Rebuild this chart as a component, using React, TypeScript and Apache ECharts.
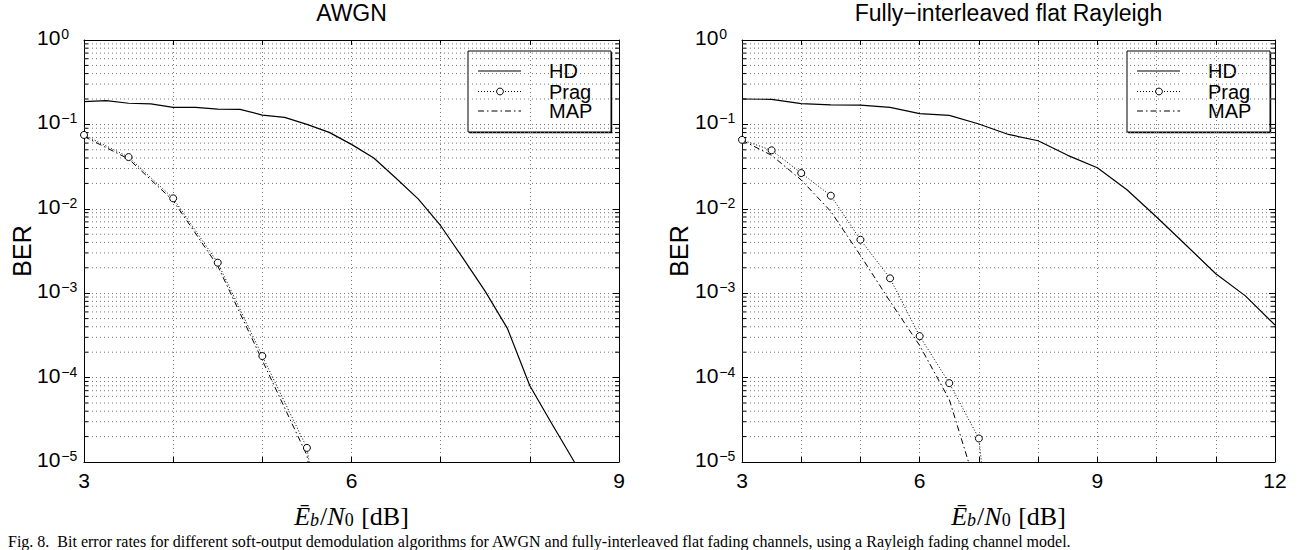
import React, { useEffect, useRef } from "react";
import * as echarts from "echarts";

// ---------- data ----------
const awgnHdX = [3, 3.25, 3.5, 3.75, 4, 4.25, 4.5, 4.75, 5, 5.25, 5.5, 5.75, 6, 6.25, 6.5, 6.75, 7, 7.25, 7.5, 7.75, 8, 8.25, 8.5];
const awgnHdY = [0.186, 0.191, 0.178, 0.175, 0.159, 0.159, 0.152, 0.151, 0.129, 0.121, 0.1, 0.0805, 0.058, 0.04, 0.023, 0.013, 0.0063, 0.0026, 0.00105, 0.00038, 0.00008, 0.000028, 0.00001];
const awgnPragX = [3, 3.5, 4, 4.5, 5, 5.5, 6];
const awgnPragY = [0.075, 0.041, 0.0133, 0.0023, 0.00018, 0.0000147, 1e-8];
const awgnMapX = [3, 3.5, 4, 4.5, 5, 5.5, 6];
const awgnMapY = [0.072, 0.039, 0.0125, 0.0021, 0.00016, 0.000012, 1e-8];

const rayHdX = [3, 3.5, 4, 4.5, 5, 5.5, 6, 6.5, 7, 7.5, 8, 8.5, 9, 9.5, 10, 10.5, 11, 11.5, 12];
const rayHdY = [0.2, 0.198, 0.176, 0.17, 0.169, 0.159, 0.134, 0.128, 0.101, 0.076, 0.064, 0.043, 0.0306, 0.0168, 0.008, 0.0037, 0.0017, 0.00093, 0.00042];
const rayPragX = [3, 3.5, 4, 4.5, 5, 5.5, 6, 6.5, 7, 7.5];
const rayPragY = [0.0657, 0.0493, 0.0265, 0.0143, 0.0043, 0.0015, 0.00031, 0.000086, 0.000019, 1e-8];
const rayMapX = [3, 3.5, 4, 4.5, 5, 5.5, 6, 6.5, 7];
const rayMapY = [0.065, 0.043, 0.022, 0.0093, 0.0028, 0.0008, 0.00024, 0.000055, 0.000004];

const titles = ["AWGN", "Fully\u2212interleaved flat Rayleigh"];
const legendNames = ["HD", "Prag", "MAP"];
const xRanges = [[3, 9], [3, 12]];
const yMin = 1e-5;
const yMax = 1;
const minorY: number[] = [];
for (let d = -5; d <= -1; d++) for (let k = 2; k <= 9; k++) minorY.push(k * Math.pow(10, d));
const caption = "Fig. 8.  Bit error rates for different soft-output demodulation algorithms for AWGN and fully-interleaved flat fading channels, using a Rayleigh fading channel model.";

// ---------- styles ----------
const SANS = '"Liberation Sans", Arial, Helvetica, sans-serif';
const SERIF = '"Liberation Serif", "Times New Roman", serif';
const GRID_COLOR = "#777";
const GRID_DASH = [1, 3];
const GRID_LINE = { color: GRID_COLOR, width: 1, type: GRID_DASH };
const DOT = [1, 2];
const DASHDOT = [6, 3, 1.5, 3];

const grids = [
  { left: 84, top: 40, width: 535, height: 422 },
  { left: 742, top: 40, width: 533, height: 422 },
];

function xAxisPair(gi: number) {
  const [mn, mx] = xRanges[gi];
  const common = {
    type: "value",
    gridIndex: gi,
    min: mn,
    max: mx,
    interval: 3,
    axisLine: { show: true, onZero: false, lineStyle: { color: "#000", width: 1 } },
    axisTick: { show: true, inside: true, length: 5, lineStyle: { color: "#000", width: 1 } },
    minorTick: { show: true, splitNumber: 3, length: 5, lineStyle: { color: "#000", width: 1 } },
  };
  return [
    {
      ...common,
      position: "bottom",
      axisLabel: { color: "#000", fontFamily: SANS, fontSize: 21, margin: 8 },
      splitLine: { show: true, lineStyle: GRID_LINE },
      minorSplitLine: { show: true, lineStyle: GRID_LINE },
      name: "{e|\u0112}{ui|b}{n|/}{e|N}{u|0}{n| [dB]}",
      nameLocation: "middle",
      nameGap: 41,
      nameTextStyle: {
        color: "#000",
        rich: {
          e: { fontFamily: SERIF, fontStyle: "italic", fontSize: 26, lineHeight: 26, verticalAlign: "top", color: "#000" },
          n: { fontFamily: SERIF, fontSize: 26, lineHeight: 26, verticalAlign: "top", color: "#000" },
          ui: { fontFamily: SERIF, fontStyle: "italic", fontSize: 18, lineHeight: 18, verticalAlign: "bottom", padding: [13, 1, 0, 0], color: "#000" },
          u: { fontFamily: SERIF, fontSize: 18, lineHeight: 18, verticalAlign: "bottom", padding: [13, 1, 0, 0], color: "#000" },
        },
      },
    },
    {
      ...common,
      position: "top",
      axisLabel: { show: false },
      splitLine: { show: false },
      minorSplitLine: { show: false },
    },
  ];
}

function yAxisPair(gi: number) {
  const common = {
    type: "log",
    logBase: 10,
    gridIndex: gi,
    min: yMin,
    max: yMax,
    axisLine: { show: true, onZero: false, lineStyle: { color: "#000", width: 1 } },
    axisTick: { show: true, inside: true, length: 6, lineStyle: { color: "#000", width: 1 } },
  };
  return [
    {
      ...common,
      position: "left",
      axisLabel: {
        margin: 47,
        align: "left",
        padding: [0, 0, 5, 0],
        formatter: (v: number) => {
          const e = Math.round(Math.log10(v));
          return `{b|10}{s|${e === 0 ? "0" : "\u2212" + -e}}`;
        },
        rich: {
          b: { fontFamily: SANS, fontSize: 21, lineHeight: 21, verticalAlign: "bottom", color: "#000" },
          s: { fontFamily: SANS, fontSize: 14, lineHeight: 14, verticalAlign: "top", padding: [0, 0, 14, 1], color: "#000" },
        },
      },
      splitLine: { show: true, lineStyle: GRID_LINE },
    },
    {
      ...common,
      position: "right",
      axisLabel: { show: false },
      splitLine: { show: false },
    },
  ];
}

function minorSeries(gi: number) {
  const [mn, mx] = xRanges[gi];
  return {
    type: "custom",
    xAxisIndex: gi * 2,
    yAxisIndex: gi * 2,
    silent: true,
    z: 1,
    data: minorY.map((v) => [mn, v]),
    renderItem: (_p: any, api: any) => {
      const v = api.value(1);
      const a = api.coord([mn, v]);
      const b = api.coord([mx, v]);
      return {
        type: "group",
        children: [
          { type: "line", shape: { x1: a[0], y1: a[1], x2: b[0], y2: b[1] }, style: { stroke: GRID_COLOR, lineWidth: 1, lineDash: GRID_DASH } },
          { type: "line", shape: { x1: a[0], y1: a[1], x2: a[0] + 4, y2: a[1] }, style: { stroke: "#000", lineWidth: 1 } },
          { type: "line", shape: { x1: b[0] - 4, y1: b[1], x2: b[0], y2: b[1] }, style: { stroke: "#000", lineWidth: 1 } },
        ],
      };
    },
  };
}

function pairs(xs: number[], ys: number[], marker: boolean) {
  return xs.map((x, i) => ({
    value: [x, ys[i]],
    symbol: marker && ys[i] >= yMin ? "circle" : "none",
  }));
}

function dataSeries(gi: number, hx: number[], hy: number[], px: number[], py: number[], mx: number[], my: number[]) {
  const base = { type: "line", xAxisIndex: gi * 2, yAxisIndex: gi * 2, clip: true, silent: true, z: 3 };
  return [
    { ...base, name: "HD", data: pairs(hx, hy, false), showSymbol: false, symbol: "none", lineStyle: { color: "#000", width: 1.2, type: "solid" } },
    {
      ...base,
      name: "Prag",
      data: pairs(px, py, true),
      symbol: "circle",
      showSymbol: true,
      showAllSymbol: true,
      symbolSize: 7,
      itemStyle: { color: "#fff", borderColor: "#000", borderWidth: 1 },
      lineStyle: { color: "#000", width: 1, type: DOT },
    },
    { ...base, name: "MAP", data: pairs(mx, my, false), symbol: "none", lineStyle: { color: "#000", width: 1, type: DASHDOT } },
  ];
}

function legendGraphic(bx: number, by: number) {
  const w = 143;
  const h = 81;
  const rows = [20, 40.5, 60];
  const sx1 = bx + 10;
  const sx2 = bx + 53;
  const children: any[] = [
    { type: "rect", shape: { x: bx + 1.2, y: by + 1.2, width: w, height: h }, style: { fill: "#000" } },
    { type: "rect", shape: { x: bx, y: by, width: w, height: h }, style: { fill: "#fff", stroke: "#000", lineWidth: 1 } },
    { type: "line", shape: { x1: sx1, y1: by + rows[0], x2: sx2, y2: by + rows[0] }, style: { stroke: "#000", lineWidth: 1.2 } },
    { type: "line", shape: { x1: sx1, y1: by + rows[1], x2: sx2, y2: by + rows[1] }, style: { stroke: "#000", lineWidth: 1, lineDash: DOT } },
    { type: "circle", shape: { cx: bx + 32, cy: by + rows[1], r: 3.4 }, style: { fill: "#fff", stroke: "#000", lineWidth: 1 } },
    { type: "line", shape: { x1: sx1, y1: by + rows[2], x2: sx2, y2: by + rows[2] }, style: { stroke: "#000", lineWidth: 1, lineDash: DASHDOT } },
  ];
  legendNames.forEach((n, i) => {
    children.push({
      type: "text",
      x: bx + 81,
      y: by + rows[i],
      style: { text: n, fontFamily: SANS, fontSize: 20, fill: "#000", align: "left", verticalAlign: "middle" },
    });
  });
  return { type: "group", z: 100, children };
}

export default function App() {
  const ref = useRef<HTMLDivElement>(null);
  useEffect(() => {
    document.body.style.margin = "0";
    if (!ref.current) return;
    const chart = echarts.init(ref.current, undefined, { renderer: "svg" });
    const xa0 = xAxisPair(0);
    const xa1 = xAxisPair(1);
    const ya0 = yAxisPair(0);
    const ya1 = yAxisPair(1);
    const option: any = {
      animation: false,
      backgroundColor: "#fff",
      grid: grids,
      xAxis: [...xa0, ...xa1],
      yAxis: [...ya0, ...ya1],
      series: [
        minorSeries(0),
        ...dataSeries(0, awgnHdX, awgnHdY, awgnPragX, awgnPragY, awgnMapX, awgnMapY),
        minorSeries(1),
        ...dataSeries(1, rayHdX, rayHdY, rayPragX, rayPragY, rayMapX, rayMapY),
      ],
      graphic: [
        { type: "text", x: 84 + 535 / 2, y: 12.5, style: { text: titles[0], fontFamily: SANS, fontSize: 23, fill: "#000", align: "center", verticalAlign: "middle" } },
        { type: "text", x: 742 + 533 / 2, y: 12.5, style: { text: titles[1], fontFamily: SANS, fontSize: 23, fill: "#000", align: "center", verticalAlign: "middle" } },
        { type: "text", x: 22, y: 251, rotation: Math.PI / 2, style: { text: "BER", fontFamily: SANS, fontSize: 25, fill: "#000", align: "center", verticalAlign: "middle" } },
        { type: "text", x: 679, y: 251, rotation: Math.PI / 2, style: { text: "BER", fontFamily: SANS, fontSize: 25, fill: "#000", align: "center", verticalAlign: "middle" } },
        legendGraphic(468, 51),
        legendGraphic(1127, 51),
        { type: "text", x: 8, y: 533, style: { text: caption, fontFamily: SERIF, fontSize: 16, lineHeight: 16, fill: "#000", align: "left", verticalAlign: "top" } },
      ],
    };
    chart.setOption(option);
    return () => chart.dispose();
  }, []);
  return <div ref={ref} style={{ width: 1302, height: 550 }} />;
}
